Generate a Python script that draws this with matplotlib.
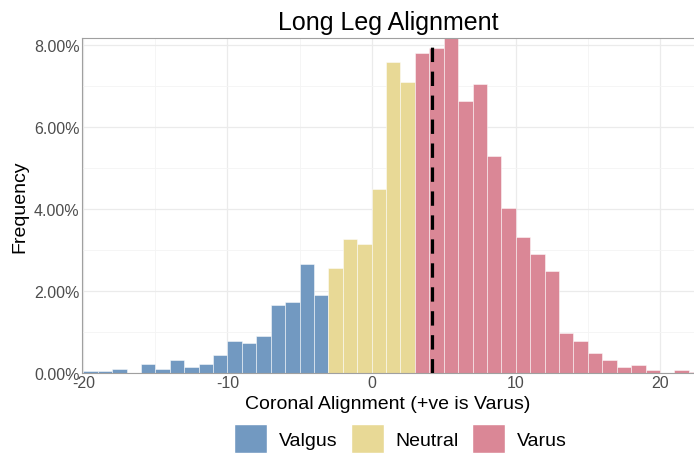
import numpy as np
import matplotlib.pyplot as plt
from matplotlib.patches import Patch
from matplotlib.ticker import FuncFormatter, MultipleLocator

plt.rcParams['font.family'] = ['Liberation Sans', 'DejaVu Sans']

# ── data: frequency (%) per 1-degree bin, bins start at left edge ────────────
bin_left = np.arange(-20, 23)
freq_pct = [0.05, 0.05, 0.10, 0.00, 0.22, 0.10, 0.34, 0.16, 0.22, 0.45,
            0.80, 0.74, 0.92, 1.68, 1.75, 2.68, 1.92,            # -20 .. -4  valgus
            2.56, 3.27, 3.15, 4.50, 7.58, 7.10,                  # -3 .. 2    neutral
            7.80, 7.93, 8.20, 6.64, 7.05, 5.29, 4.04, 3.33, 2.92, 2.50,
            0.98, 0.80, 0.51, 0.33, 0.15, 0.21, 0.09, 0.00, 0.09, 0.04]  # 3 .. 22 varus
groups = ["Valgus", "Neutral", "Varus"]
group_edges = [-20, -3, 3, 23]      # group i covers bins [edge_i, edge_{i+1})
mean_align = 4.17

colors = {"Valgus": "#7299C1", "Neutral": "#E8D996", "Varus": "#DA8796"}

# ── figure ───────────────────────────────────────────────────────────────────
fig = plt.figure(figsize=(6.94, 4.6), dpi=100)
ax = fig.add_axes([0.1186, 0.1859, 0.8814, 0.7287])

freq = np.array(freq_pct)
for g, lo, hi in zip(groups, group_edges[:-1], group_edges[1:]):
    m = (bin_left >= lo) & (bin_left < hi)
    ax.bar(bin_left[m], freq[m], width=1.0, align="edge",
           color=colors[g], edgecolor="#FFFFFFB0", linewidth=0.5, zorder=2)

ax.axvline(mean_align, color="black", lw=2.3, ls=(0, (4.5, 3)), zorder=3)

ax.set_xlim(-20.07, 22.36)
ax.set_ylim(0, 8.17)

ax.xaxis.set_major_locator(MultipleLocator(10))
ax.xaxis.set_minor_locator(MultipleLocator(5))
ax.yaxis.set_major_locator(MultipleLocator(2))
ax.yaxis.set_minor_locator(MultipleLocator(1))
ax.yaxis.set_major_formatter(FuncFormatter(lambda v, p: f"{v:.2f}%"))
ax.xaxis.set_major_formatter(FuncFormatter(lambda v, p: f"{v:.0f}"))

ax.grid(True, which="major", color="#EBEBEB", lw=0.9, zorder=0)
ax.grid(True, which="minor", color="#F4F4F4", lw=0.6, zorder=0)
ax.set_axisbelow(True)

ax.tick_params(which="both", length=0, labelsize=11.5, labelcolor="#4D4D4D")
ax.tick_params(axis="x", pad=1)
ax.tick_params(axis="y", pad=2)

for s in ["left", "top", "bottom"]:
    ax.spines[s].set_color("#A0A0A0")
    ax.spines[s].set_linewidth(0.8)
ax.spines["right"].set_visible(False)

ax.set_title("Long Leg Alignment", fontsize=18, pad=7)
ax.set_xlabel("Coronal Alignment (+ve is Varus)", fontsize=14, labelpad=4)
ax.set_ylabel("Frequency", fontsize=14, labelpad=4)

handles = [Patch(facecolor=colors[g], edgecolor="white") for g in groups]
fig.legend(handles, groups, loc="lower center", bbox_to_anchor=(0.577, -0.025),
           ncol=3, frameon=False, fontsize=14, handlelength=1.7, handleheight=1.9,
           handletextpad=0.6, columnspacing=0.7)

fig.savefig("out.png", dpi=100)
